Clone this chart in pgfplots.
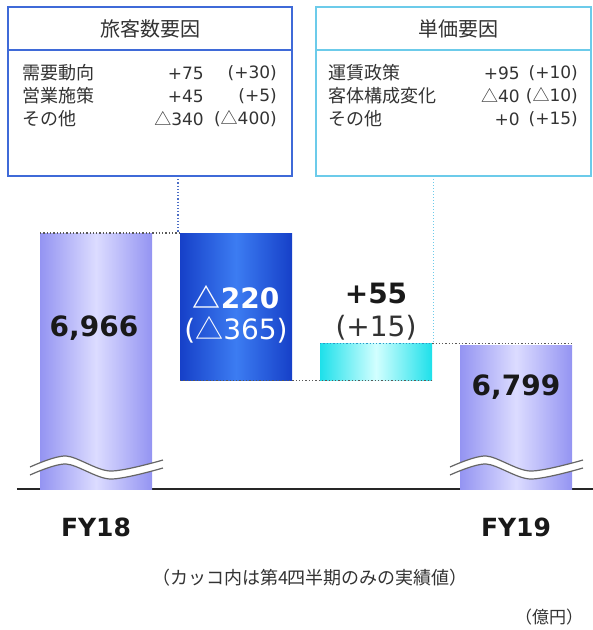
\documentclass[border=0pt]{standalone}
\usepackage{pgfplots}
\pgfplotsset{compat=1.18}
\usepackage{fontspec}
\setmainfont{DejaVu Sans}
\newfontfamily\cjk{Noto Sans CJK JP}
\definecolor{boxblue}{HTML}{3F6AD8}
\definecolor{boxcyan}{HTML}{6CCBEA}
\definecolor{fyedge}{HTML}{9494F2}
\definecolor{fymid}{HTML}{DCDCFF}
\definecolor{bluedge}{HTML}{1640C8}
\definecolor{bluemid}{HTML}{3C7CF2}
\definecolor{cyanedge}{HTML}{1EE0EA}
\definecolor{cyanmid}{HTML}{D2FFFF}
\definecolor{txt}{HTML}{333333}
\newcommand{\fs}[1]{\fontsize{#1}{#1}\selectfont}
\newcommand{\tri}{{\cjk △}}
\begin{document}
\begin{tikzpicture}[x=1pt,y=1pt]
\useasboundingbox (0,0) rectangle (593,-630);
\begin{axis}[
  at={(17pt,-489pt)}, anchor=south west,
  scale only axis, width=576pt, height=489pt,
  xmin=-0.5643, xmax=3.55, ymin=6584.29, ymax=7313.42,
  axis x line*=bottom, axis y line=none,
  x axis line style={line width=2pt, color=black!85},
  xtick={0,3}, xticklabels={FY18,FY19},
  major tick length=0pt,
  xticklabel style={font=\fs{25}\bfseries, anchor=base, yshift=-47pt, text=black!90},
  ytick=\empty,
  no markers,
  clip mode=individual,
]
% FY totals
\addplot[ybar, bar width=0.8, draw=none, left color=fyedge, right color=fyedge, middle color=fymid]
  coordinates {(0,6966)};
\addplot[ybar, bar width=0.8, draw=none, left color=fyedge, right color=fyedge, middle color=fymid]
  coordinates {(3,6799)};
% passenger factor: -220 (6966 -> 6746)
\addplot[draw=none, left color=bluedge, right color=bluedge, middle color=bluemid]
  coordinates {(0.6,6746) (1.4,6746) (1.4,6966) (0.6,6966)} -- cycle;
% unit price factor: +55 (6746 -> 6801)
\addplot[draw=none, left color=cyanedge, right color=cyanedge, middle color=cyanmid]
  coordinates {(1.6,6746) (2.4,6746) (2.4,6801) (1.6,6801)} -- cycle;
% connectors
\draw[dotted, line width=1.3pt, black!65] (axis cs:-0.4,6966) -- (axis cs:0.6,6966);
\draw[dotted, line width=1.3pt, black!65] (axis cs:0.6,6746) -- (axis cs:2.4,6746);
\draw[dotted, line width=1.3pt, black!65] (axis cs:1.6,6801) -- (axis cs:3.4,6801);
\draw[dotted, line width=1.3pt, cyan!60!teal] (axis cs:1.6,6801) -- (axis cs:2.4,6801);
\end{axis}
% vertical dotted lines from boxes
\draw[dotted, line width=1.2pt, boxblue!80!gray] (178,-176) -- (178,-233);
\draw[dotted, line width=1pt, boxcyan] (433,-176) -- (433,-344);
% wave breaks
\foreach \dx in {0,420}{
  \begin{scope}[xshift=\dx]
  \fill[white] plot[smooth] coordinates {(30,-467) (66,-456) (110,-471) (163,-460)}
     -- plot[smooth] coordinates {(163,-468) (110,-479) (66,-464) (30,-475)} -- cycle;
  \draw[line width=1.2pt, black!60] plot[smooth] coordinates {(30,-467) (66,-456) (110,-471) (163,-460)};
  \draw[line width=1.2pt, black!60] plot[smooth] coordinates {(30,-475) (66,-464) (110,-479) (163,-468)};
  \end{scope}
}
% bar labels
\node[font=\fs{28}\bfseries, text=black!90] at (94,-328) {6,966};
\node[font=\fs{28}\bfseries, text=white] at (236,-297) {\tri220};
\node[font=\fs{28}, text=white] at (236,-330) {(\tri365)};
\node[font=\fs{28}\bfseries, text=black!90] at (376,-293) {+55};
\node[font=\fs{28}, text=txt] at (376,-328) {(+15)};
\node[font=\fs{28}\bfseries, text=black!90] at (516,-387) {6,799};
% notes
\node[font=\fs{18}\cjk, text=txt] at (310,-578) {（カッコ内は第4四半期のみの実績値）};
\node[font=\fs{17}\cjk, text=txt] at (549,-617) {（億円）};
% left box
\draw[line width=2.2pt, boxblue, fill=white] (8,-7) rectangle (292,-176);
\draw[line width=2pt, boxblue] (8,-50) -- (292,-50);
\node[font=\fs{20}\cjk, text=txt] at (150,-29) {旅客数要因};
\begin{scope}[every node/.style={font=\fs{17}, text=txt, inner sep=0pt}]
\node[anchor=west, font=\fs{18}\cjk] at (22,-73) {需要動向};
\node[anchor=west, font=\fs{18}\cjk] at (22,-96) {営業施策};
\node[anchor=west, font=\fs{18}\cjk] at (22,-119) {その他};
\node[anchor=east] at (204,-73) {+75};
\node[anchor=east] at (204,-96) {+45};
\node[anchor=east] at (204,-119) {\tri340};
\node[anchor=east] at (277,-73) {(+30)};
\node[anchor=east] at (277,-96) {(+5)};
\node[anchor=east] at (277,-119) {(\tri400)};
\end{scope}
% right box
\draw[line width=2pt, boxcyan, fill=white] (316,-7) rectangle (591,-176);
\draw[line width=2pt, boxcyan] (316,-50) -- (591,-50);
\node[font=\fs{20}\cjk, text=txt] at (458,-29) {単価要因};
\begin{scope}[every node/.style={font=\fs{17}, text=txt, inner sep=0pt}]
\node[anchor=west, font=\fs{18}\cjk] at (328,-73) {運賃政策};
\node[anchor=west, font=\fs{18}\cjk] at (328,-96) {客体構成変化};
\node[anchor=west, font=\fs{18}\cjk] at (328,-119) {その他};
\node[anchor=east] at (520,-73) {+95};
\node[anchor=east] at (520,-96) {\tri40};
\node[anchor=east] at (520,-119) {+0};
\node[anchor=east] at (578,-73) {(+10)};
\node[anchor=east] at (578,-96) {(\tri10)};
\node[anchor=east] at (578,-119) {(+15)};
\end{scope}
\end{tikzpicture}
\end{document}
